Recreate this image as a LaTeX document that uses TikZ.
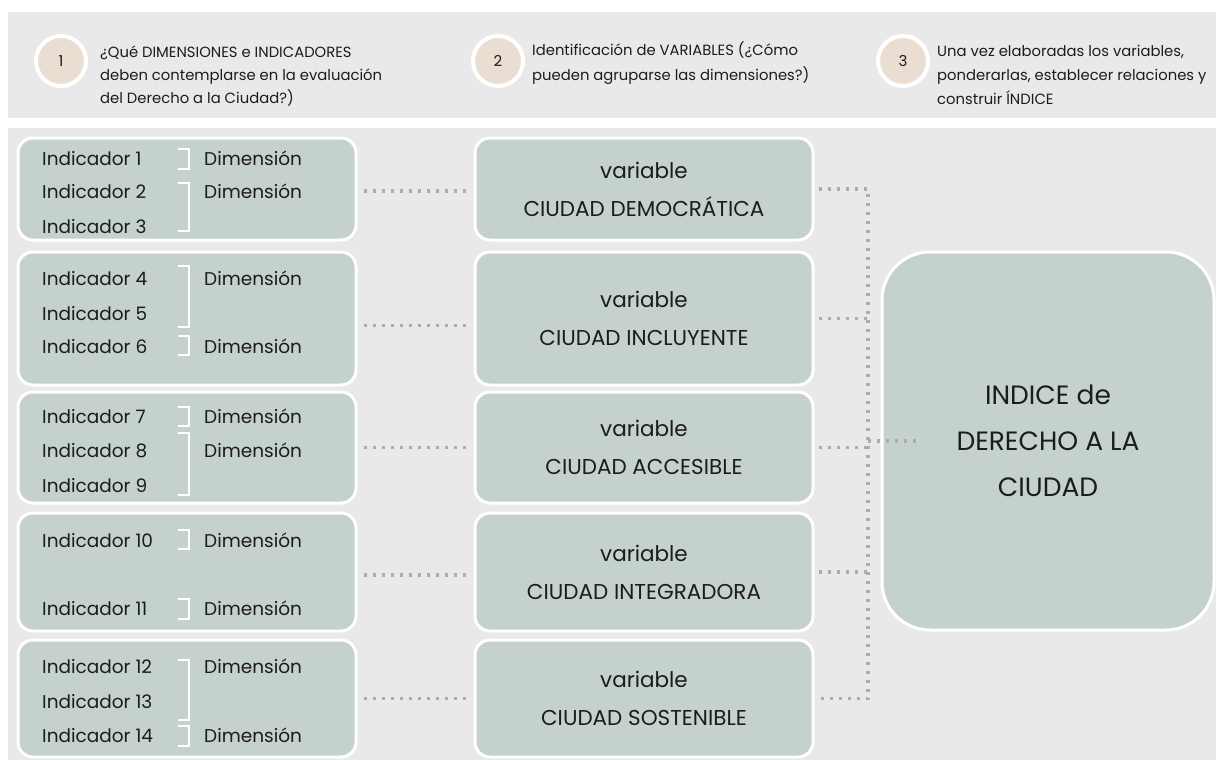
\documentclass[tikz,border=0pt]{standalone}
\usepackage{fontspec}
\setmainfont{Poppins}
\definecolor{panel}{RGB}{233,233,233}
\definecolor{boxc}{RGB}{197,209,204}
\definecolor{beige}{RGB}{234,222,211}
\definecolor{dotc}{RGB}{172,172,172}
\definecolor{txt}{RGB}{28,28,28}
\tikzset{
  lbox/.style={draw=white, line width=3pt, fill=boxc, rounded corners=15pt, minimum width=338pt, inner sep=0pt},
  mbox/.style={lbox, align=center, text=txt, font=\fontsize{21.5}{38}\selectfont},
  ibox/.style={draw=white, line width=3pt, fill=boxc, rounded corners=48pt, minimum width=332pt, minimum height=378pt, align=center, text=txt, font=\fontsize{26.5}{46}\selectfont},
  ind/.style={anchor=west, inner sep=0pt, text height=1.3ex, text depth=0pt, yshift=-1.5pt, text=txt, font=\fontsize{18.5}{20}\selectfont},
  htxt/.style={anchor=west, inner sep=0pt, text height=1.3ex, text depth=0pt, yshift=-1pt, text=txt, font=\fontsize{14.8}{16}\selectfont},
  numc/.style={circle, draw=white, line width=4pt, fill=beige, minimum size=50pt, inner sep=0pt, text=txt, font=\fontsize{15}{16}\selectfont},
  brk/.style={draw=white, line width=2pt},
  dotline/.style={draw=dotc, line width=3.2pt, dash pattern=on 3.2pt off 5.8pt}
}
\begin{document}
\begin{tikzpicture}[x=1pt,y=-1pt]
\useasboundingbox (0,0) rectangle (1216,760);
\fill[white] (0,0) rectangle (1216,760);
\fill[panel] (8,12) rectangle (1216,118);
\fill[panel] (8,128) rectangle (1216,760);

% header
\node[numc] (c1) at (61,61) {1};
\node[numc] (c2) at (498,61) {2};
\node[numc] (c3) at (903,61) {3};
\node[htxt] (h1a) at (100,53) {¿Qué DIMENSIONES e INDICADORES};
\node[htxt] (h1b) at (100,76) {deben contemplarse en la evaluación};
\node[htxt] (h1c) at (100,99) {del Derecho a la Ciudad?)};
\node[htxt] (h2a) at (532,51) {Identificación de VARIABLES (¿Cómo};
\node[htxt] (h2b) at (532,76) {pueden agruparse las dimensiones?)};
\node[htxt] (h3a) at (937,52) {Una vez elaboradas los variables,};
\node[htxt] (h3b) at (937,76) {ponderarlas, establecer relaciones y};
\node[htxt] (h3c) at (937,100) {construir ÍNDICE};

% left boxes
\node[lbox, minimum height=102pt] (l1) at (187,189) {};
\node[lbox, minimum height=133pt] (l2) at (187,318.5) {};
\node[lbox, minimum height=111pt] (l3) at (187,447.5) {};
\node[lbox, minimum height=118pt] (l4) at (187,572) {};
\node[lbox, minimum height=117pt] (l5) at (187,698.5) {};

% middle boxes
\node[mbox, minimum height=102pt] (m1) at (644,189) {variable\\CIUDAD DEMOCRÁTICA};
\node[mbox, minimum height=133pt] (m2) at (644,318.5) {variable\\CIUDAD INCLUYENTE};
\node[mbox, minimum height=111pt] (m3) at (644,447.5) {variable\\CIUDAD ACCESIBLE};
\node[mbox, minimum height=118pt] (m4) at (644,572) {variable\\CIUDAD INTEGRADORA};
\node[mbox, minimum height=117pt] (m5) at (644,698.5) {variable\\CIUDAD SOSTENIBLE};

% index box
\node[ibox] (idx) at (1048,441) {INDICE de\\DERECHO A LA\\CIUDAD};

% indicators
\foreach \y [count=\k] in {160,193,228,280,315,348,418,452,487,542,610,668,703,737}
  \node[ind] (ind\k) at (42,\y) {Indicador \k};
% dimensions
\foreach \y [count=\k] in {160,193,280,348,418,452,542,610,668,737}
  \node[ind] (dim\k) at (204,\y) {Dimensión};
% brackets
\foreach \t/\b in {149/169,183/231,266/327,336/355,407/426,433/495,530/549,599/619,660/720,726/746}
  \draw[brk] (178,\t) -- (189,\t) -- (189,\b) -- (178,\b);

% connectors left -> middle
\draw[dotline] ([xshift=6pt,yshift=-2pt]l1.east) -- ([xshift=-6pt,yshift=-2pt]m1.west);
\draw[dotline] ([xshift=6pt,yshift=-7pt]l2.east) -- ([xshift=-6pt,yshift=-7pt]m2.west);
\draw[dotline] ([xshift=6pt]l3.east) -- ([xshift=-6pt]m3.west);
\draw[dotline] ([xshift=6pt,yshift=-3pt]l4.east) -- ([xshift=-6pt,yshift=-3pt]m4.west);
\draw[dotline] ([xshift=6pt]l5.east) -- ([xshift=-6pt]m5.west);

% bus to index
\coordinate (bus) at (868,441);
\draw[dotline] ([xshift=4pt]m1.east) -- (m1.east -| bus) -- (m5.east -| bus) -- ([xshift=4pt]m5.east);
\draw[dotline] ([xshift=4pt]m2.east) -- (m2.east -| bus);
\draw[dotline] ([xshift=4pt]m3.east) -- (m3.east -| bus);
\draw[dotline] ([xshift=4pt]m4.east) -- (m4.east -| bus);
\draw[dotline] (idx.west -| bus) -- ([xshift=40pt]idx.west);
\end{tikzpicture}
\end{document}
